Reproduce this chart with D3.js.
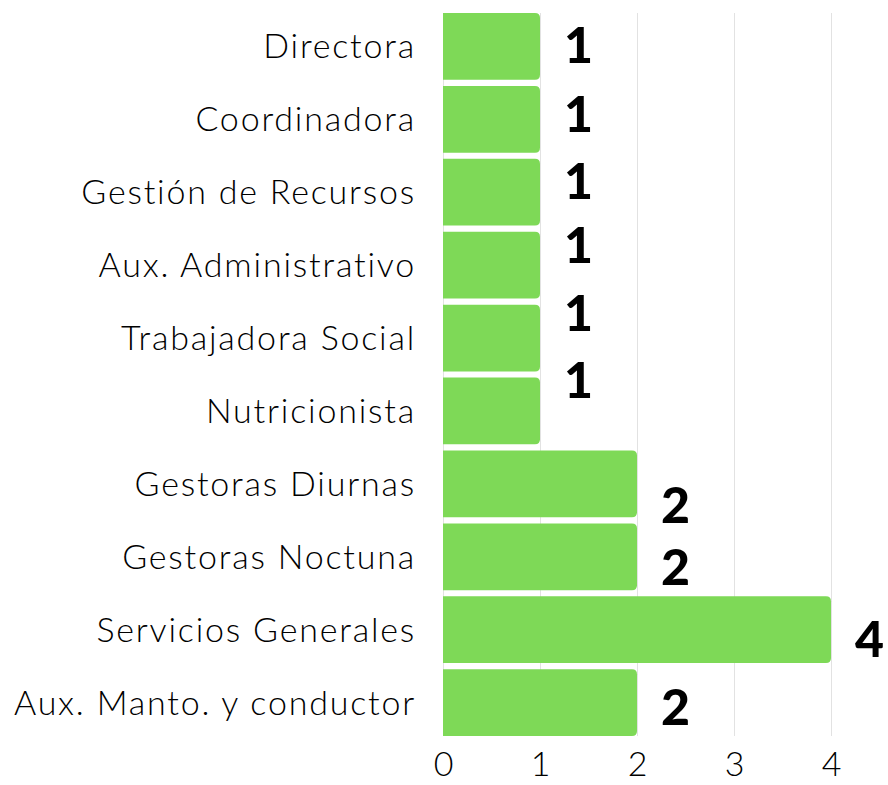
<!DOCTYPE html>
<html>
<head>
<meta charset="utf-8">
<script src="https://cdn.jsdelivr.net/npm/d3@7"></script>
<style>
  body { margin: 0; background: #fff; }
  svg { display: block; }
</style>
</head>
<body>
<div id="chart-area"></div>
<script>
// data
const categories = [
  "Directora",
  "Coordinadora",
  "Gestión de Recursos",
  "Aux. Administrativo",
  "Trabajadora Social",
  "Nutricionista",
  "Gestoras Diurnas",
  "Gestoras Noctuna",
  "Servicios Generales",
  "Aux. Manto. y conductor"
];
const values = [1, 1, 1, 1, 1, 1, 2, 2, 4, 2];
const xTicks = [0, 1, 2, 3, 4];

// value labels sit a bit off the bar centre in the original
const labelNudge = [-1, -5, -11, -20, -25, -31, 21, 10, 9, 4];

const width = 888,
  height = 785;

const svg = d3
  .select("#chart-area")
  .append("svg")
  .attr("width", width)
  .attr("height", height);

// Scales
const xScale = d3.scaleLinear().domain([0, 4]).range([443, 831]);
const yScale = d3
  .scaleBand()
  .domain(categories)
  .range([13, 736])
  .paddingInner(0.085)
  .paddingOuter(0);

// grid
svg
  .append("g")
  .selectAll("line")
  .data(xTicks)
  .join("line")
  .attr("x1", d => Math.round(xScale(d)) + 0.5)
  .attr("x2", d => Math.round(xScale(d)) + 0.5)
  .attr("y1", 13)
  .attr("y2", 736)
  .attr("stroke", "#e2e2e2")
  .attr("stroke-width", 1);

// bars, right corners rounded
const r = 5;
function barPath(d, i) {
  const x0 = xScale(0),
    x1 = xScale(d),
    y0 = yScale(categories[i]),
    h = yScale.bandwidth();
  return `M${x0},${y0}H${x1 - r}Q${x1},${y0} ${x1},${y0 + r}V${y0 + h - r}Q${x1},${y0 + h} ${x1 - r},${y0 + h}H${x0}Z`;
}

svg
  .append("g")
  .selectAll("path")
  .data(values)
  .join("path")
  .attr("d", barPath)
  .attr("fill", "#7ED957");

// value labels
svg
  .append("g")
  .selectAll("text")
  .data(values)
  .join("text")
  .attr("x", d => xScale(d) + 24)
  .attr("y", (d, i) => yScale(categories[i]) + yScale.bandwidth() / 2 + 18 + labelNudge[i])
  .attr("font-family", "Lato, sans-serif")
  .attr("font-weight", 900)
  .attr("font-size", "50px")
  .attr("fill", "#000")
  .text(d => d);

// category labels
const yAxisCall = d3.axisLeft(yScale).tickSize(0).tickPadding(0);
const yAxisGroup = svg
  .append("g")
  .attr("class", "y axis")
  .attr("transform", "translate(416,0)")
  .call(yAxisCall);
yAxisGroup.select(".domain").remove();
yAxisGroup
  .selectAll("text")
  .attr("font-family", "Lato, sans-serif")
  .attr("font-weight", 300)
  .attr("font-size", "34px")
  .attr("letter-spacing", "1.8px")
  .attr("fill", "#000")
  .attr("dy", "0.35em");

// x axis
const xAxisCall = d3
  .axisBottom(xScale)
  .tickValues(xTicks)
  .tickFormat(d3.format("d"))
  .tickSize(0)
  .tickPadding(0);
const xAxisGroup = svg
  .append("g")
  .attr("class", "x axis")
  .attr("transform", "translate(0,752)")
  .call(xAxisCall);
xAxisGroup.select(".domain").remove();
xAxisGroup
  .selectAll("text")
  .attr("font-family", "Lato, sans-serif")
  .attr("font-weight", 300)
  .attr("font-size", "34px")
  .attr("fill", "#000")
  .attr("dy", "0.71em");
</script>
</body>
</html>
